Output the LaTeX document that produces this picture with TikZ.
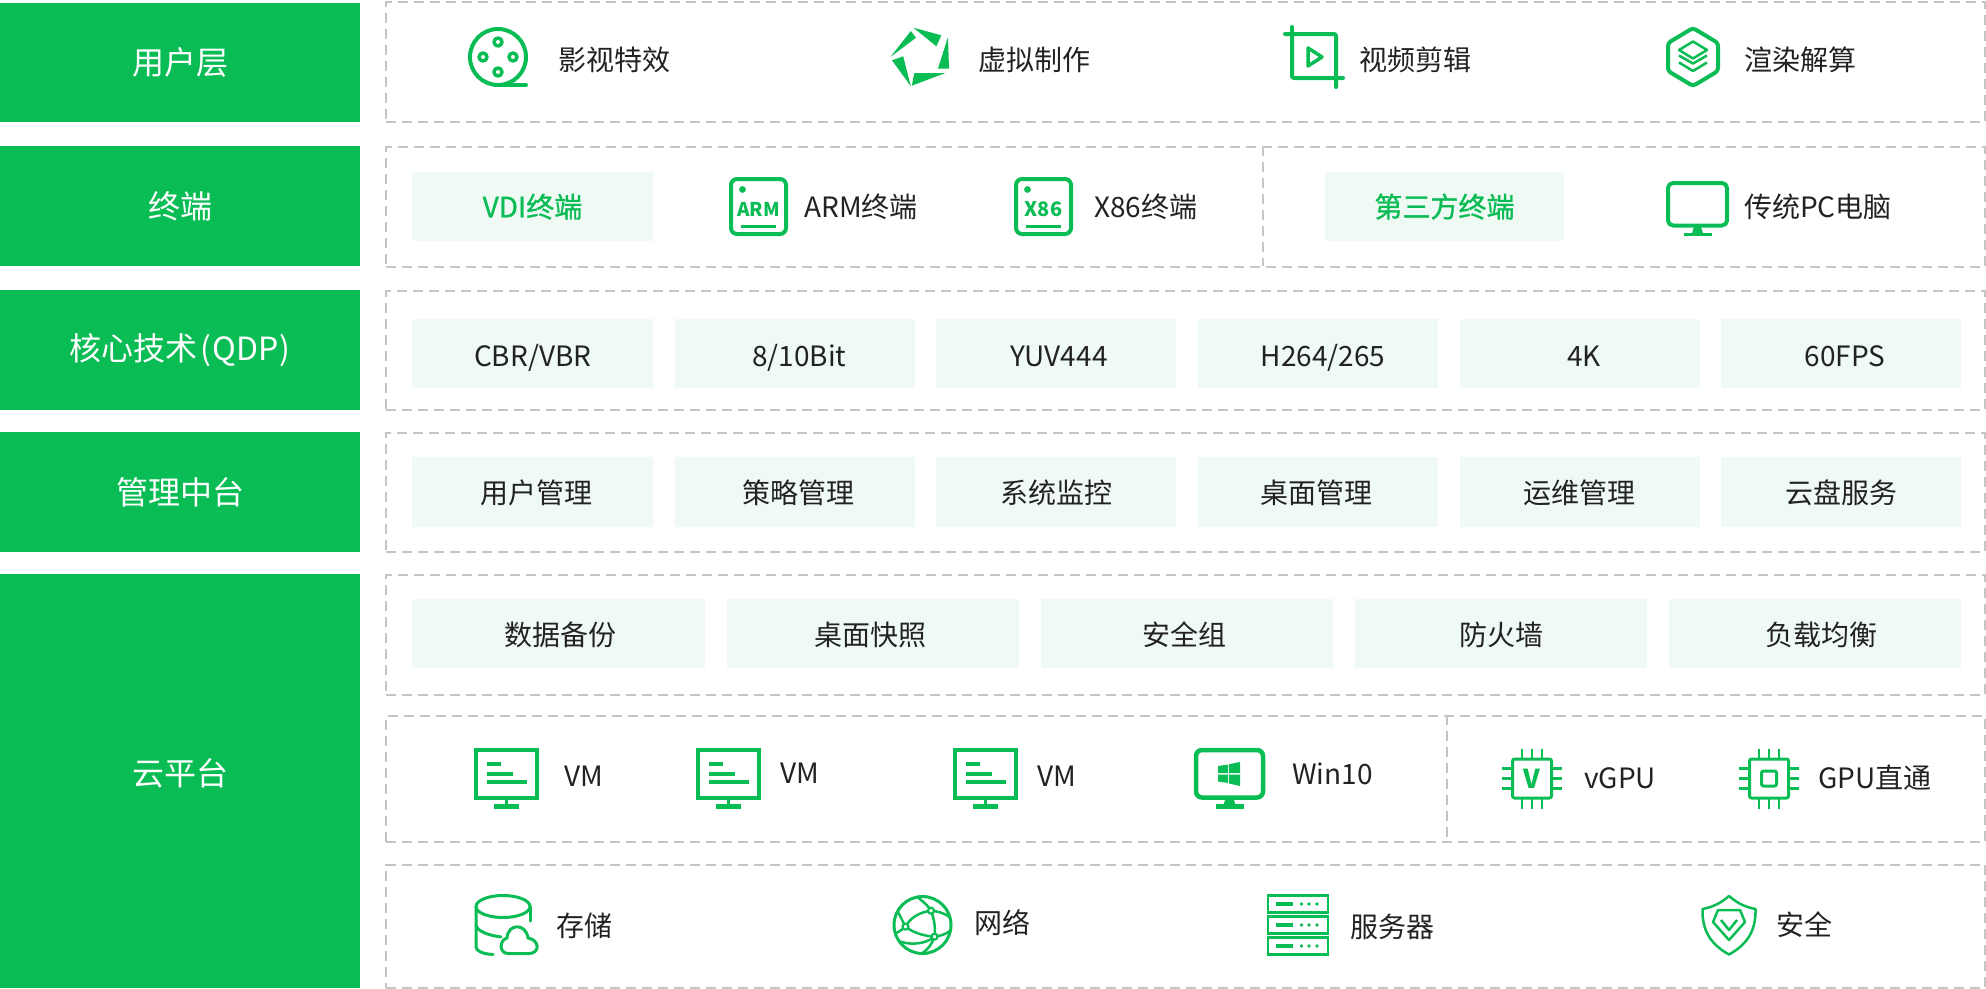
\documentclass[tikz,border=0pt]{standalone}
\usepackage{fontspec}
\setmainfont{Noto Sans CJK SC}
\definecolor{gr}{HTML}{0ABC54}
\definecolor{lt}{HTML}{F0FAF5}
\definecolor{dk}{HTML}{222222}
\definecolor{dg}{HTML}{C4C4C4}
\newcommand{\sh}[1]{\kern#1pt\relax}
\tikzset{
 head/.style={fill=gr,text=white,inner sep=0,font=\fontsize{32}{36}\selectfont,anchor=north west,text height=27.5pt,text depth=3.5pt},
 dbox/.style={draw=dg,line width=2pt,dash pattern=on 10pt off 6pt,inner sep=0,anchor=north west},
 cell/.style={fill=lt,text=dk,inner sep=0,font=\fontsize{28}{32}\selectfont,anchor=north west,text height=27.6pt,text depth=3.4pt},
 cellb/.style={cell,text height=29.6pt},
 cellc/.style={cell,text height=26pt},
 gcell/.style={cell,text=gr,text height=24.6pt,font=\fontsize{28}{32}\selectfont\addfontfeature{FakeBold=1}},
 lab/.style={text=dk,inner sep=0,font=\fontsize{28}{32}\selectfont,anchor=west,text height=24.6pt,text depth=3.4pt},
 ic/.style={draw=gr,line width=#1,line join=round},
 ic/.default=3pt,
 ictext/.style={text=gr,inner sep=0,font=\bfseries},
 reel/.pic={
  \draw[ic=4pt] (0,0) circle[radius=28];
  \draw[ic=4pt,line cap=round] (0,28)--(28,28);
  \foreach \a/\b in {0/-15,0/15,-15/0,15/0}\draw[ic=3.5pt] (\a,\b) circle[radius=4];
 },
 star/.pic={
  \fill[gr] (-9.2,-26)--(-4,-19.3)--(-29.6,0)--cycle;
  \fill[gr] (-6.6,-29.3)--(21.4,-21.7)--(16.3,-10.7)--cycle;
  \fill[gr] (28,-20)--(29,11.7)--(17.9,11.7)--cycle;
  \fill[gr] (25.5,16)--(-5.6,16)--(-8.2,28.7)--cycle;
  \fill[gr] (-28,3.3)--(-16.8,-.7)--(-9.2,29.3)--cycle;
 },
 crop/.pic={
  \draw[ic=4pt,line cap=round,rounded corners=2pt] (-22,-30)--(-22,21)--(29,21);
  \draw[ic=4pt,line cap=round,rounded corners=2pt] (-29,-23)--(22,-23)--(22,30);
  \draw[ic=3.5pt] (-6,-9)--(8,0)--(-6,9)--cycle;
 },
 hexi/.pic={
  \draw[ic=4pt,rounded corners=3pt] (0,-29)--(25,-14)--(25,14)--(0,29)--(-25,14)--(-25,-14)--cycle;
  \draw[ic=2.5pt] (0,-15.5)--(14,-7)--(0,1.5)--(-14,-7)--cycle;
  \draw[ic=2.5pt] (-14,-1.5)--(0,6.5)--(14,-1.5);
  \draw[ic=2.5pt] (-14,5.5)--(0,14)--(14,5.5);
 },
 socp/.pic={
  \draw[ic=4pt,rounded corners=6pt] (-27.5,-27.5) rectangle (27.5,27.5);
  \fill[gr] (-16,-17) circle[radius=3.4];
  \fill[gr] (-17.5,18) rectangle (17.5,21.5);
 },
 pcmon/.pic={
  \draw[ic=4pt,rounded corners=5pt] (-29.5,-25.5) rectangle (29.5,17);
  \fill[gr] (-3.5,18) -- (3.5,18) -- (5.5,25) -- (-5.5,25) -- cycle;
  \fill[gr] (-14,24.5) rectangle (14,27.5);
 },
 vmmon/.pic={
  \draw[draw=gr,line width=4pt,line join=miter] (-30.5,-28.5) rectangle (30.5,19.5);
  \fill[gr] (-1.5,20)rectangle(1.5,28);
  \fill[gr] (-12.5,25.7) rectangle (12.5,30.5);
  \fill[gr] (-20,-16.5) rectangle (-6,-12.7);
  \fill[gr] (-20,-6.2) rectangle (6.5,-2.4);
  \fill[gr] (-20,1.9) rectangle (20,5.7);
 },
 winmon/.pic={
  \draw[ic=4.5pt,rounded corners=6pt] (-33.5,-28.5) rectangle (33.5,19);
  \fill[gr] (-4,20)--(4,20)--(6,26.5)--(-6,26.5)--cycle;
  \fill[gr] (-14,25.5) rectangle (14,30.5);
  \fill[gr] (-11.5,-12.5)--(-1.5,-14)--(-1.5,-5.5)--(-11.5,-5.5)--cycle;
  \fill[gr] (-.3,-14.3)--(10.5,-16.5)--(10.5,-5.5)--(-.3,-5.5)--cycle;
  \fill[gr] (-11.5,-4)--(-1.5,-4)--(-1.5,4.5)--(-11.5,3)--cycle;
  \fill[gr] (-.3,-4)--(10.5,-4)--(10.5,7.5)--(-.3,5)--cycle;
 },
 chip/.pic={
  \draw[ic=3pt,rounded corners=2pt] (-19.5,-19.5) rectangle (19.5,19.5);
  \foreach \k in {-10,0,10}{
   \draw[ic=2.5pt] (\k,-30)--(\k,-20);
   \draw[ic=2.5pt] (\k,20)--(\k,30);
   \draw[ic=2.5pt] (-30,\k)--(-20,\k);
   \draw[ic=2.5pt] (20,\k)--(30,\k);
  }
 },
 stor/.pic={
  \draw[ic=3pt] (-4,-18.5) ellipse[x radius=27,y radius=11];
  \draw[ic=3pt,line cap=round] (-31,-18.5)--(-31,22) .. controls (-31,26) and (-24,29) .. (-14,29.5);
  \draw[ic=3pt,line cap=round] (23,-18.5)--(23,-4);
  \draw[ic=3pt,line cap=round] (-31,0) .. controls (-30,6) and (-20,10) .. (-6,12);
  \draw[ic=3pt,fill=white,line cap=round] (1,28.5) .. controls (-8,28.5) and (-8,15) .. (0,13) .. controls (1,-2) and (19,-2) .. (21,13) .. controls (33,15) and (33,28.5) .. (22,28.5) -- cycle;
 },
 globe/.pic={
  \draw[ic=3pt] (0,0) circle[radius=28.5];
  \draw[ic=2.5pt] (-5,-28) .. controls (2,-22) and (6,-19) .. (8.5,-14.3) .. controls (12,-5) and (13,3) .. (12,11.7) .. controls (10,18) and (6,24) .. (0,28);
  \draw[ic=2.5pt] (-17,1.7) .. controls (-12,-8) and (-2,-13) .. (8.5,-14.3) .. controls (14,-14) and (22,-12) .. (27,-8);
  \draw[ic=2.5pt] (-25,-14) -- (-17,1.7) .. controls (-9,8) and (2,11) .. (12,11.7) .. controls (18,11) and (24,9) .. (28.5,5);
  \draw[ic=2.5pt] (-28,9) .. controls (-22,6) and (-20,4) .. (-17,1.7);
  \draw[ic=2.5pt] (-24,16) .. controls (-14,20) and (2,20) .. (12,11.7);
  \foreach \a/\b in {8.5/-14.3,-17/1.7,12/11.7}\draw[ic=2.2pt,fill=white] (\a,\b) circle[radius=3];
 },
 serv/.pic={
  \foreach \r in {-21,0,21}{
   \draw[draw=gr,line width=2.5pt] (-30,\r-8.5) rectangle (30,\r+8.5);
   \fill[gr] (-22,\r-1.8) rectangle (-5,\r+1.8);
   \foreach \d in {3.5,11,19}\fill[gr] (\d,\r) circle[radius=1.8];
  }
 },
 shld/.pic={
  \draw[ic=2.5pt] (0,-29) .. controls (8,-22) and (16,-18) .. (26.5,-16) .. controls (27,5) and (19,19) .. (0,29.5) .. controls (-19,19) and (-27,5) .. (-26.5,-16) .. controls (-16,-18) and (-8,-22) .. (0,-29) -- cycle;
  \draw[ic=2.5pt] (-11,-15)--(11,-15)--(16,-3)--(0,15)--(-16,-3)--cycle;
  \draw[ic=2.5pt] (-8,-5)--(0,5)--(8,-5);
 },
}
\newcommand{\bx}[7][]{\node[#2,minimum width=#5pt,minimum height=#6pt,#1] (#7) at (#3,#4)}
\begin{document}
\begin{tikzpicture}[x=1pt,y=-1pt]
\useasboundingbox (0,0) rectangle (1986,988);
% left headers
\bx{head}{0}{2.5}{360}{119.5}{h1} {用户层};
\bx{head}{0}{146}{360}{120}{h2} {终端};
\bx[text height=26pt]{head}{0}{289.5}{360}{120}{h3} {核心技术\kern3pt(\kern1pt QDP\kern1pt)};
\bx{head}{0}{432}{360}{120}{h4} {管理中台};
\bx{head}{0}{574}{360}{414}{h5} {};
\node[text=white,inner sep=0,font=\fontsize{32}{36}\selectfont] (h5t) at (180,773) {云平台};
% dashed rows
\bx{dbox}{385}{1}{1599}{119.5}{r1} {};
\bx{dbox}{385}{146}{1599}{119.5}{r2} {};
\bx{dbox}{385}{290}{1599}{118.5}{r3} {};
\bx{dbox}{385}{432}{1599}{119}{r4} {};
\bx{dbox}{385}{573.5}{1599}{120}{r5} {};
\bx{dbox}{385}{714.5}{1599}{126}{r6} {};
\bx{dbox}{385}{863.5}{1599}{123.5}{r7} {};
\coordinate (d1t) at (1263,146); \coordinate (d1b) at (1263,265.5);
\coordinate (d2t) at (1447,714.5); \coordinate (d2b) at (1447,840.5);
\draw[draw=dg,line width=2pt,dash pattern=on 10pt off 6pt] (d1t)--(d1b);
\draw[draw=dg,line width=2pt,dash pattern=on 10pt off 6pt] (d2t)--(d2b);
% row 1
\pic at (498,57) {reel};
\node[lab] (t11) at (558,60.3) {影视特效};
\pic at (920,57) {star};
\node[lab] (t12) at (978,60.3) {虚拟制作};
\pic at (1314,57) {crop};
\node[lab] (t13) at (1359,60.3) {视频剪辑};
\pic at (1693,57) {hexi};
\node[lab] (t14) at (1744.5,60.3) {渲染解算};
% row 2
\bx{gcell}{412}{172}{240.5}{69}{c21} {VDI终端};
\pic at (758.5,206.5) {socp};
\node[ictext,font=\fontsize{19}{22}\bfseries] (i1) at (758.5,209) {ARM};
\node[lab] (t21) at (804,207.3) {ARM终端};
\pic at (1043.5,206.5) {socp};
\node[ictext,font=\fontsize{20}{22}\bfseries] (i2) at (1043.5,209) {X86};
\node[lab] (t22) at (1094,207.3) {X86终端};
\bx{gcell}{1324.5}{172}{239.5}{69}{c22} {第三方终端};
\pic at (1697.5,208.5) {pcmon};
\node[lab] (t23) at (1744,207.3) {传统PC电脑};
% row 3
\bx{cellb}{412}{319}{241}{69}{c31} {CBR/VBR};
\bx{cellb}{674.6}{319}{240}{69}{c32} {\sh{9}8/10Bit};
\bx{cellb}{936.2}{319}{240}{69}{c33} {\sh{5}YUV444};
\bx{cellb}{1197.8}{319}{240}{69}{c34} {\sh{10}H264/265};
\bx{cellb}{1459.4}{319}{240}{69}{c35} {\sh{9}4K};
\bx{cellb}{1721}{319}{240}{69}{c36} {\sh{8}60FPS};
% row 4
\bx{cellc}{412}{457}{241}{70}{c41} {\sh{7}用户管理};
\bx{cellc}{674.6}{457}{240}{70}{c42} {\sh{7}策略管理};
\bx{cellc}{936.2}{457}{240}{70}{c43} {系统监控};
\bx{cellc}{1197.8}{457}{240}{70}{c44} {桌面管理\sh{3}};
\bx{cellc}{1459.4}{457}{240}{70}{c45} {运维管理};
\bx{cellc}{1721}{457}{240}{70}{c46} {云盘服务};
% row 5
\bx{cell}{412}{599}{292.5}{69}{c51} {\sh{5}数据备份};
\bx{cell}{726.5}{599}{292}{69}{c52} {桌面快照\sh{5}};
\bx{cell}{1040.7}{599}{292}{69}{c53} {安全组\sh{5}};
\bx{cell}{1354.9}{599}{292}{69}{c54} {防火墙};
\bx{cell}{1669}{599}{292}{69}{c55} {\sh{12}负载均衡};
% row 6
\pic at (506.5,778.5) {vmmon};
\node[lab] (t61) at (564,776) {VM};
\pic at (728.5,778.5) {vmmon};
\node[lab] (t62) at (780,773) {VM};
\pic at (985.5,778.5) {vmmon};
\node[lab] (t63) at (1037,776) {VM};
\pic at (1229.5,778.5) {winmon};
\node[lab] (t64) at (1292,774) {Win10};
\pic at (1532,778.5) {chip};
\node[ictext,font=\fontsize{26}{28}\bfseries] (i3) at (1532,778.5) {V};
\node[lab] (t65) at (1584,778) {vGPU};
\pic at (1769,778.5) {chip};
\draw[ic=3pt,rounded corners=2pt] (1761.5,771) rectangle (1776.5,786);
\node[lab] (t66) at (1818,778) {GPU直通};
% row 7
\pic at (507,925) {stor};
\node[lab] (t71) at (556,926) {存储};
\pic at (922.5,925) {globe};
\node[lab] (t72) at (974,923) {网络};
\pic at (1298,925) {serv};
\node[lab] (t73) at (1350,927) {服务器};
\pic at (1729,925) {shld};
\node[lab] (t74) at (1776,925) {安全};
\end{tikzpicture}
\end{document}
